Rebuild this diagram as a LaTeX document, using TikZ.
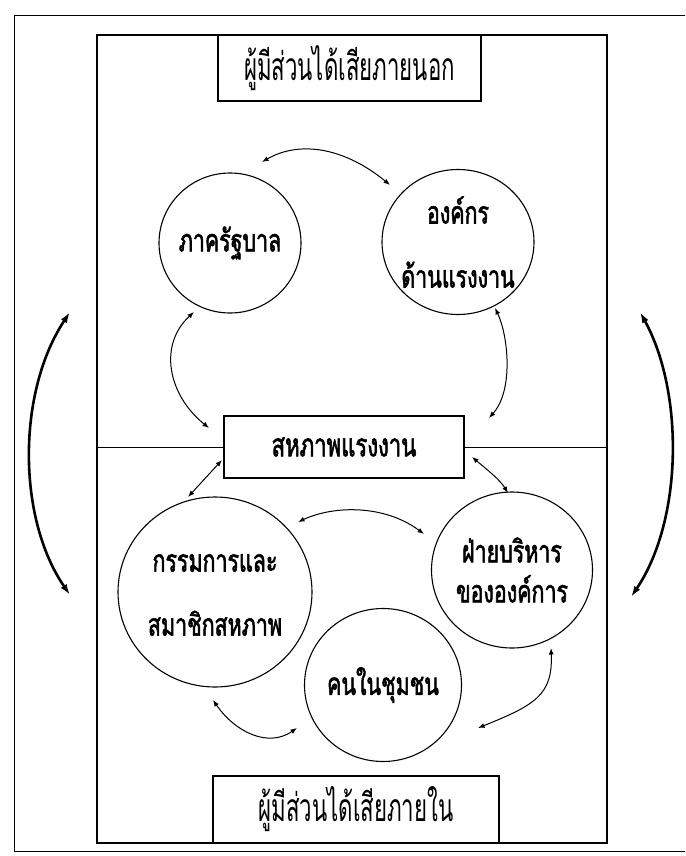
\documentclass[tikz,border=0pt]{standalone}
\usepackage{fontspec}
\usetikzlibrary{arrows.meta,shapes.geometric}
\newfontfamily\thaibox[Script=Thai,FakeStretch=0.57]{Loma}
\newfontfamily\thaibold[Script=Thai,FakeStretch=0.69,FakeBold=1.8]{Loma}
\begin{document}
\begin{tikzpicture}[x=1pt,y=-1pt,
  frameline/.style={line width=1pt},
  lblbox/.style={draw,line width=1.1pt,inner sep=0pt,font=\thaibox\fontsize{39}{42}\selectfont},
  circ/.style={ellipse,draw,line width=1.1pt,inner sep=0pt},
  circtext/.style={inner sep=0pt,align=center,font=\thaibold\fontsize{31}{34}\selectfont},
  midbox/.style={draw,line width=1.1pt,inner sep=0pt,font=\thaibold\fontsize{32}{34}\selectfont},
  link/.style={{Latex[length=6.5pt,width=5pt]}-{Latex[length=6.5pt,width=5pt]},line width=1pt},
  biglink/.style={{Latex[length=11pt,width=7pt]}-{Latex[length=11pt,width=7pt]},line width=2.6pt}]
\useasboundingbox (0,0) rectangle (685,856);
\clip (0,0) rectangle (685,856);
% outer frame (right side off the page)
\draw[frameline] (700,16) -- (14,16) -- (14,851) -- (700,851);
% inner frame
\draw[line width=1.3pt] (97,35) rectangle (607,843);
% boxes
\node[lblbox,minimum width=263pt,minimum height=66pt] (outer) at (349.5,68) {ผู้มีส่วนได้เสียภายนอก};
\node[lblbox,minimum width=286pt,minimum height=67pt] (inner) at (356,809.5) {ผู้มีส่วนได้เสียภายใน};
\node[midbox,minimum width=240pt,minimum height=62pt] (union) at (344,447) {สหภาพแรงงาน};
% divider line
\draw[line width=1pt] (97,447) -- (union.west);
\draw[line width=1pt] (union.east) -- (607,447);
% circles
\node[circ,minimum width=142pt,minimum height=140pt] (gov) at (230,243) {};
\node[circ,minimum width=152pt,minimum height=145pt] (org) at (458,242) {};
\node[circ,minimum width=194pt,minimum height=190pt] (com) at (215,592) {};
\node[circ,minimum width=161pt,minimum height=156pt] (mgt) at (512,570) {};
\node[circ,minimum width=157pt,minimum height=153pt] (ppl) at (383,685) {};
\node[circtext] (govt) at (gov.center) {ภาครัฐบาล};
\node[circtext] (orgt) at (org.center) {องค์กร\\[30pt]ด้านแรงงาน};
\node[circtext] (comt) at ([yshift=-3pt]com.center) {กรรมการและ\\[30pt]สมาชิกสหภาพ};
\node[circtext] (mgtt) at (mgt.center) {ฝ่ายบริหาร\\[6pt]ขององค์การ};
\node[circtext] (pplt) at (ppl.center) {คนในชุมชน};
% connector end points
\coordinate (a1) at (262,162); \coordinate (a2) at (390,185);
\coordinate (b1) at (194,312); \coordinate (b2) at (209,428);
\coordinate (c1) at (495,308); \coordinate (c2) at (489,418);
\coordinate (d1) at (222,460); \coordinate (d2) at (188,497);
\coordinate (e1) at (472,457); \coordinate (e2) at (508,493);
\coordinate (f1) at (298,522); \coordinate (f2) at (424,534);
\coordinate (g1) at (213,700); \coordinate (g2) at (297,728);
\coordinate (h1) at (551,648); \coordinate (h2) at (478,728);
\coordinate (L1) at (70,312); \coordinate (L2) at (70,595);
\coordinate (R1) at (640,312); \coordinate (R2) at (631,597);
% connectors
\draw[link] (a1) .. controls (300,140) and (345,148) .. (a2);
\draw[link] (b1) .. controls (158,345) and (168,395) .. (b2);
\draw[link] (c1) .. controls (508,335) and (514,390) .. (c2);
\draw[link] (d1) -- (d2);
\draw[link] (e1) .. controls (490,472) and (500,480) .. (e2);
\draw[link] (f1) .. controls (335,505) and (385,505) .. (f2);
\draw[link] (g1) .. controls (235,732) and (268,748) .. (g2);
\draw[link] (h1) .. controls (553,695) and (535,705) .. (h2);
\draw[biglink] (L1) .. controls (17,392) and (17,518) .. (L2);
\draw[biglink] (R1) .. controls (684,392) and (683,520) .. (R2);
\end{tikzpicture}
\end{document}
